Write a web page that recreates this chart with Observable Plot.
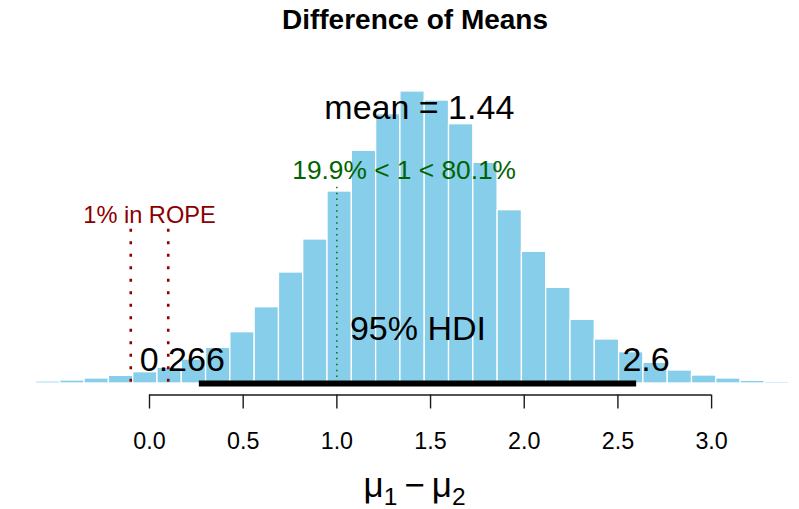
<!DOCTYPE html>
<html><head><meta charset="utf-8">
<script src="https://cdn.jsdelivr.net/npm/d3@7"></script>
<script src="https://cdn.jsdelivr.net/npm/@observablehq/plot@0.6"></script>
<style>
html,body{margin:0;padding:0;background:#fff;}
#fig{width:799px;height:509px;overflow:hidden;position:relative;font-family:"Liberation Sans",Arial,Helvetica,sans-serif;color:#000;background:#fff;}
#title{height:40px;line-height:40px;font-size:28px;font-weight:bold;text-align:center;padding-left:31px;box-sizing:border-box;white-space:nowrap;}
#chart{height:420px;}
#xlab{height:49px;line-height:49px;font-size:35px;text-align:center;padding-left:30px;box-sizing:border-box;white-space:nowrap;}
#xlab sub{font-size:0.7em;vertical-align:-0.32em;line-height:0;}
</style></head>
<body>
<div id="fig">
  <div id="title">Difference of Means</div>
  <div id="chart"></div>
  <div id="xlab">μ<sub>1</sub>&thinsp;−&thinsp;μ<sub>2</sub></div>
</div>
<script>
// Histogram break points (bin edges) of the posterior difference of means
const breaks = [-0.7355, -0.6058, -0.4762, -0.3465, -0.2168, -0.0872, 0.0425, 0.1722,
  0.3019, 0.4315, 0.5612, 0.6909, 0.8205, 0.9502, 1.0799, 1.2096, 1.3392, 1.4689,
  1.5986, 1.7282, 1.8579, 1.9876, 2.1172, 2.2469, 2.3766, 2.5063, 2.6359, 2.7656,
  2.8953, 3.0249, 3.1546, 3.2843, 3.4139, 3.5436];
// Density of each bin
const density = [0.0027, 0.0055, 0.0082, 0.0136, 0.0210, 0.0308, 0.0428, 0.0654,
  0.0973, 0.1399, 0.2080, 0.3026, 0.3926, 0.5234, 0.6344, 0.7342, 0.7961, 0.7715,
  0.7069, 0.6017, 0.4725, 0.3591, 0.2609, 0.1737, 0.1200, 0.0853, 0.0564, 0.0354,
  0.0218, 0.0136, 0.0074, 0.0046, 0.0027];
const xTicks = [0, 0.5, 1, 1.5, 2, 2.5, 3];
const meanValue = 1.44;
const hdiLimits = [0.266, 2.6];
const credMass = 95;
const compValue = 1;
const pctBelowComp = 19.9;
const pctAboveComp = 80.1;
const ropeLimits = [-0.1, 0.1];
const pctInRope = 1;

const bins = density.map((d, i) => ({x1: breaks[i], x2: breaks[i + 1], density: d}));
const maxD = d3.max(density);
const cenTendHt = 0.9 * maxD, cvHt = 0.7 * maxD, ropeTextHt = 0.55 * maxD;
const font = '"Liberation Sans", Arial, Helvetica, sans-serif';
const big = 34;

const plot = Plot.plot({
  width: 799, height: 420,
  marginTop: 0, marginRight: 87.9, marginBottom: 65.5, marginLeft: 149,
  style: {fontFamily: font, background: "white", overflow: "hidden"},
  x: {domain: [0, 3]},
  y: {domain: [0, 0.8], range: [343, 343 - 0.8 * 366.8], axis: null},
  marks: [
    Plot.rect(bins, {x1: "x1", x2: "x2", y1: 0, y2: "density", fill: "#87CEEB", stroke: "white", strokeWidth: 1.3}),
    Plot.ruleX(ropeLimits, {x: d => d, y1: 0.96 * ropeTextHt, y2: 0, stroke: "#8B0000", strokeWidth: 2.6, strokeDasharray: "2.9,9.6"}),
    Plot.ruleX([compValue], {x: d => d, y1: 0.96 * cvHt, y2: 0, stroke: "#006400", strokeWidth: 1.4, strokeDasharray: "1.5,4.4"}),
    Plot.ruleY([0], {x1: hdiLimits[0], x2: hdiLimits[1], stroke: "black", strokeWidth: 5.8}),
    Plot.ruleY([0], {x1: xTicks[0], x2: xTicks[xTicks.length - 1], dy: 11.5, stroke: "#1a1a1a", strokeWidth: 1.4}),
    Plot.axisX({ticks: xTicks, tickSize: 14, tickPadding: 23, tickFormat: d => d.toFixed(1), fontSize: 23.3,
      stroke: "#1a1a1a", strokeWidth: 1.4, fill: "black", label: null}),
    Plot.text([`mean = ${meanValue}`], {x: meanValue, y: cenTendHt, text: d => d, textAnchor: "middle", lineAnchor: "bottom", fontSize: big, fill: "black", dy: -1.5}),
    Plot.text([`${pctBelowComp}% < ${compValue} < ${pctAboveComp}%`], {x: compValue, y: cvHt, text: d => d, textAnchor: "start", lineAnchor: "bottom", fontSize: 26.3, fill: "#006400", dx: -44.6}),
    Plot.text([`${pctInRope}% in ROPE`], {x: d3.mean(ropeLimits), y: ropeTextHt, text: d => d, textAnchor: "middle", lineAnchor: "bottom", fontSize: 23.6, fill: "#8B0000"}),
    Plot.text([`${credMass}% HDI`], {x: d3.mean(hdiLimits), y: 0, text: d => d, textAnchor: "middle", lineAnchor: "bottom", fontSize: big, fill: "black", dy: -44}),
    Plot.text([String(hdiLimits[0])], {x: hdiLimits[0], y: 0, text: d => d, textAnchor: "end", lineAnchor: "bottom", fontSize: big, fill: "black", dx: 25.5, dy: -13}),
    Plot.text([String(hdiLimits[1])], {x: hdiLimits[1], y: 0, text: d => d, textAnchor: "start", lineAnchor: "bottom", fontSize: big, fill: "black", dx: -14.2, dy: -12.3})
  ]
});
document.getElementById("chart").appendChild(plot);
</script>
</body></html>
